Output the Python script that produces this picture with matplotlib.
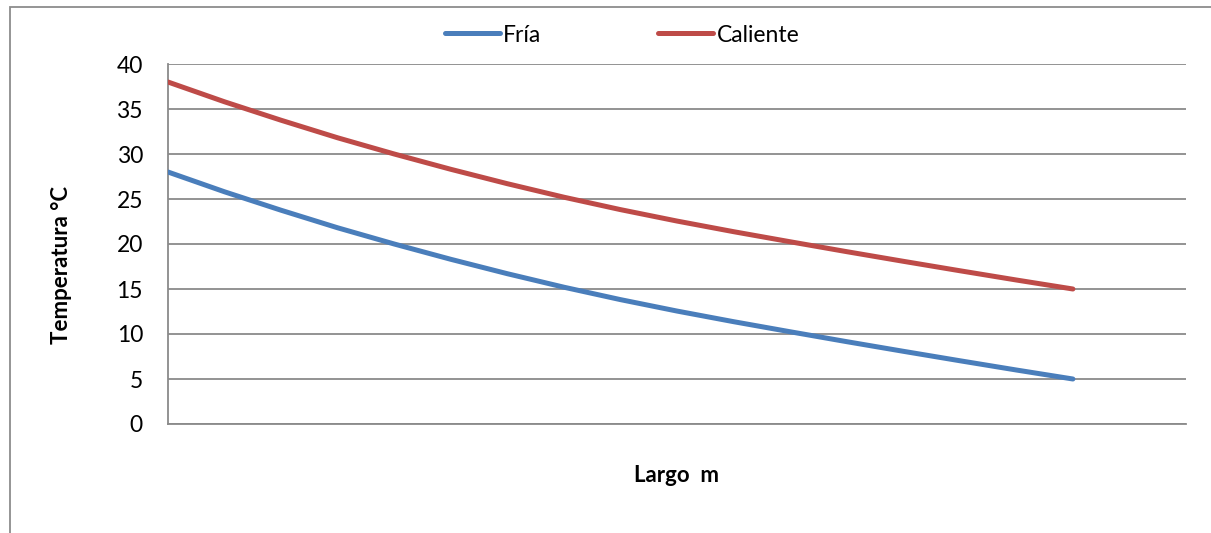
import matplotlib.pyplot as plt
from matplotlib.patches import Rectangle

plt.rcParams['font.family'] = ['Lato', 'DejaVu Sans']

# Length along the exchanger (no labels shown on the axis) and temperatures
largo = [0, 0.25, 0.5, 0.75, 1, 1.25, 1.5, 1.75, 2, 2.25, 2.5, 2.75, 3, 3.25, 3.5, 3.75, 4]
fria = [28, 25.8, 23.75, 21.8, 20, 18.3, 16.7, 15.2, 13.82, 12.55, 11.37, 10.25,
        9.15, 8.08, 7.03, 6.0, 5]
caliente = [38, 35.8, 33.75, 31.8, 30, 28.3, 26.7, 25.2, 23.82, 22.55, 21.37, 20.25,
            19.15, 18.08, 17.03, 16.0, 15]
y_ticks = [0, 5, 10, 15, 20, 25, 30, 35, 40]

W, H = 1211, 533
fig = plt.figure(figsize=(W / 100, H / 100), dpi=100)
ax = fig.add_axes([168 / W, 1 - 424 / H, (1186 - 168) / W, (424 - 64) / H])

grid_color = '#8a8a8a'

ax.plot(largo, fria, color='#4a7ebb', lw=3.6, solid_capstyle='round',
        solid_joinstyle='round', label='Fría', zorder=3)
ax.plot(largo, caliente, color='#be4b48', lw=3.6, solid_capstyle='round',
        solid_joinstyle='round', label='Caliente', zorder=3)

ax.set_xlim(0, 4.5)
ax.set_ylim(0, 40)
ax.set_yticks(y_ticks)
ax.set_xticks([])
ax.tick_params(axis='y', length=0, pad=18, labelsize=16.5, colors='black')
ax.yaxis.grid(True, color=grid_color, lw=1.3)
ax.set_axisbelow(True)

for side in ['top', 'right']:
    ax.spines[side].set_visible(False)
for side in ['left', 'bottom']:
    ax.spines[side].set_color(grid_color)
    ax.spines[side].set_linewidth(1.3)

# axis titles
fig.text(62 / W, 1 - 265 / H, 'Temperatura °C', rotation=90, ha='center', va='center',
         fontsize=16, fontweight='bold')
fig.text(677 / W, 1 - 475 / H, 'Largo  m', ha='center', va='center',
         fontsize=16, fontweight='bold')

fig.legend(loc='center', bbox_to_anchor=(622 / W, 1 - 35 / H), ncol=2, frameon=False,
           fontsize=16.5, handlelength=2.4, handletextpad=0.15, columnspacing=5.1)

# outer chart frame (cropped at the right and bottom)
fig.patches.append(Rectangle((10 / W, -0.1), 1.2, 1.1 - 7 / H, transform=fig.transFigure,
                             fill=False, edgecolor='#8c8c8c', lw=1.3))

fig.savefig('out.png', dpi=100)
